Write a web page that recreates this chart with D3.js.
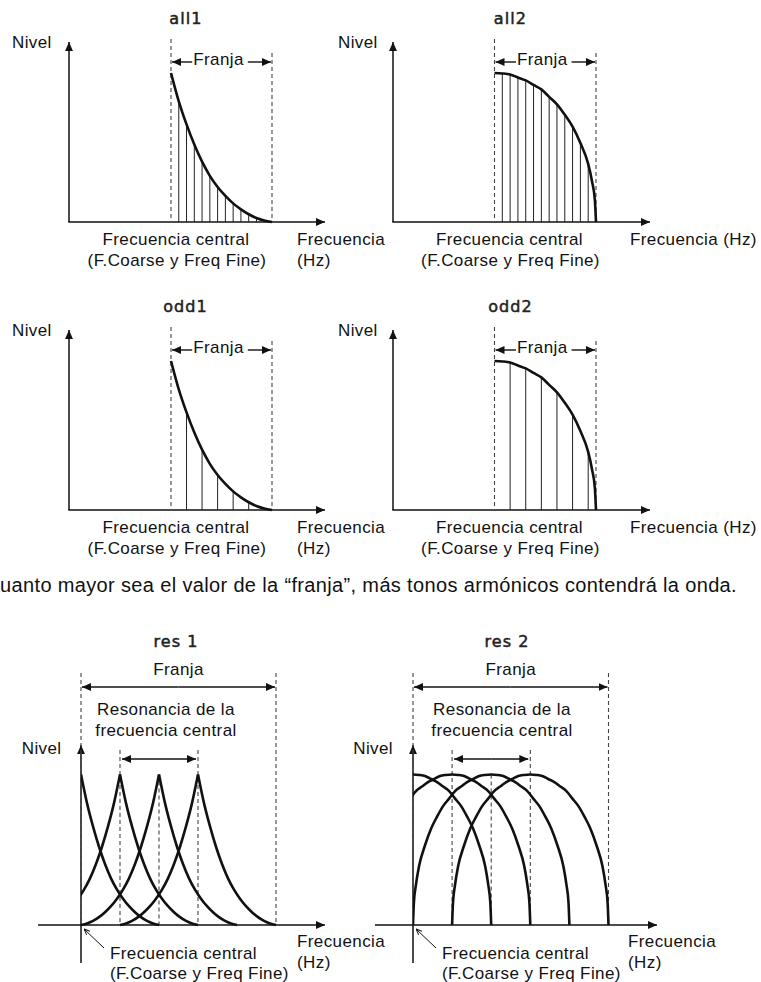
<!DOCTYPE html>
<html>
<head>
<meta charset="utf-8">
<script src="https://cdn.jsdelivr.net/npm/d3@7"></script>
<style>
body { margin: 0; background: #fff; }
</style>
</head>
<body>
<div id="chart"></div>
<script>
//Width and height
var w = 761;
var h = 982;

//Harmonic number inside the band (0 = central frequency, 13 = end of "Franja")
var curveIdx = [0, 1, 2, 3, 4, 5, 6, 7, 8, 9, 10, 11, 12, 13];
var allHarmonics = [1, 2, 3, 4, 5, 6, 7, 8, 9, 10, 11, 12];
var oddHarmonics1 = [2, 4, 6, 8, 10];
var oddHarmonics2 = [2, 4, 6, 8, 10, 12];

//Level of the envelope at each harmonic (1 = top)
var level1 = [1, 0.81, 0.655, 0.52, 0.405, 0.31, 0.235, 0.175, 0.125, 0.085, 0.052, 0.027, 0.01, 0];
var level2 = [1, 0.997, 0.99, 0.97, 0.95, 0.92, 0.89, 0.84, 0.79, 0.72, 0.64, 0.53, 0.39, 0];
//extra points where the round envelope drops steeply
var level2EdgeIdx = [12.5, 12.85];
var level2Edge = [0.27, 0.15];

//res: peaks in steps of the central frequency resonance
var resPeaks = [0, 1, 2, 3];
var resFranja = 5;
var resHalfWidth = 2;

var titles = ["all1", "all2", "odd1", "odd2", "res 1", "res 2"];
var sentence = "Cuanto mayor sea el valor de la \u201cfranja\u201d, más tonos armónicos contendrá la onda.";

var font = "'Liberation Sans', Arial, Helvetica, sans-serif";
var titleFont = "'DejaVu Sans', Verdana, sans-serif";

//Create SVG element
var svg = d3.select("#chart")
    .append("svg")
    .attr("width", w)
    .attr("height", h);

var defs = svg.append("defs");

defs.append("marker")
    .attr("id", "head")
    .attr("viewBox", "0 0 10 10")
    .attr("refX", 10)
    .attr("refY", 5)
    .attr("markerWidth", 9)
    .attr("markerHeight", 9)
    .attr("markerUnits", "userSpaceOnUse")
    .attr("orient", "auto")
    .append("path")
    .attr("d", "M0,0.6L10,5L0,9.4Z")
    .attr("fill", "#111");

defs.append("marker")
    .attr("id", "smallhead")
    .attr("viewBox", "0 0 10 10")
    .attr("refX", 10)
    .attr("refY", 5)
    .attr("markerWidth", 6)
    .attr("markerHeight", 6)
    .attr("markerUnits", "userSpaceOnUse")
    .attr("orient", "auto")
    .append("path")
    .attr("d", "M0,1L10,5L0,9")
    .attr("fill", "none")
    .attr("stroke", "#111")
    .attr("stroke-width", 1.6);

function arrow(g, x1, y1, x2, y2, sw) {
    return g.append("line")
        .attr("x1", x1).attr("y1", y1)
        .attr("x2", x2).attr("y2", y2)
        .attr("stroke", "#111")
        .attr("stroke-width", sw || 1.4)
        .attr("marker-end", "url(#head)");
}

function dashed(g, x, y1, y2) {
    g.append("line")
        .attr("x1", x).attr("y1", y1)
        .attr("x2", x).attr("y2", y2)
        .attr("stroke", "#444")
        .attr("stroke-width", 1.1)
        .attr("stroke-dasharray", "4,3");
}

function label(g, txt, x, y, anchor, size) {
    return g.append("text")
        .attr("x", x)
        .attr("y", y)
        .attr("text-anchor", anchor || "start")
        .attr("font-family", font)
        .attr("font-size", size || 17)
        .attr("letter-spacing", 0.4)
        .attr("fill", "#111")
        .text(txt);
}

function title(g, txt, x, y) {
    g.append("text")
        .attr("x", x)
        .attr("y", y)
        .attr("text-anchor", "middle")
        .attr("font-family", titleFont)
        .attr("font-size", 16)
        .attr("letter-spacing", 1.1)
        .attr("fill", "#222")
        .attr("stroke", "#222")
        .attr("stroke-width", 0.5)
        .text(txt);
}

//Double arrow with the word in the middle
function franjaArrow(g, xa, xb, y, cx) {
    var t = label(g, "Franja", cx, y + 3, "middle");
    var tw = t.node().getComputedTextLength();
    arrow(g, cx - tw / 2 - 1, y, xa + 1, y);
    arrow(g, cx + tw / 2 + 4, y, xb - 1, y);
}

//Top panels: envelope + harmonic lines
function harmonicPanel(p) {
    var g = svg.append("g").attr("transform", "translate(0," + p.dy + ")");

    var x = d3.scaleLinear().domain([0, 13]).range([p.x0, p.x1]);
    var y = d3.scaleLinear().domain([0, 1]).range([222, 73]);

    //axes
    arrow(g, p.ax, 222, p.ax, 42, 1.5);
    arrow(g, p.ax - 0.7, 222, p.axEnd, 222, 1.5);

    //band limits
    dashed(g, x(0), 39, 222);
    dashed(g, x(13), 53, 222);

    //harmonics
    g.selectAll(".harm")
        .data(p.harmonics)
        .enter()
        .append("line")
        .attr("class", "harm")
        .attr("x1", function(d) { return x(d); })
        .attr("x2", function(d) { return x(d); })
        .attr("y1", 222)
        .attr("y2", function(d) { return y(p.levels[d]); })
        .attr("stroke", "#222")
        .attr("stroke-width", 1);

    //envelope
    var pts = curveIdx.map(function(d, i) { return [d, p.levels[i]]; });
    if (p.edge) {
        p.edge.idx.forEach(function(d, i) { pts.push([d, p.edge.lv[i]]); });
        pts.sort(function(a, b) { return a[0] - b[0]; });
    }
    var line = d3.line()
        .x(function(d) { return x(d[0]); })
        .y(function(d) { return y(d[1]); })
        .curve(d3.curveMonotoneX);
    g.append("path")
        .attr("d", line(pts))
        .attr("fill", "none")
        .attr("stroke", "#111")
        .attr("stroke-width", 2.6);

    franjaArrow(g, x(0), x(13), 62, (x(0) + x(13)) / 2 - 3);

    //texts
    title(g, p.title, p.titleX, 24);
    label(g, "Nivel", p.nivelX, 48);
    label(g, "Frecuencia central", p.cx, 244.5, "middle");
    label(g, "(F.Coarse y Freq Fine)", p.cx + 1, 266, "middle");
    if (p.hzInline) {
        label(g, "Frecuencia (Hz)", p.hzX, 244.5);
    } else {
        label(g, "Frecuencia", p.hzX, 244.5);
        label(g, "(Hz)", p.hzX, 266);
    }
}

var edge2 = { idx: level2EdgeIdx, lv: level2Edge };

harmonicPanel({ dy: 0, ax: 69, axEnd: 325, x0: 171, x1: 272, harmonics: allHarmonics, levels: level1,
    title: titles[0], titleX: 186, nivelX: 12, cx: 176, hzX: 297 });
harmonicPanel({ dy: 0, ax: 393, axEnd: 650, x0: 494.5, x1: 596, harmonics: allHarmonics, levels: level2, edge: edge2,
    title: titles[1], titleX: 510.5, nivelX: 338, cx: 509.5, hzX: 630, hzInline: true });
harmonicPanel({ dy: 288, ax: 69, axEnd: 325, x0: 171, x1: 272, harmonics: oddHarmonics1, levels: level1,
    title: titles[2], titleX: 185.5, nivelX: 12, cx: 176, hzX: 297 });
harmonicPanel({ dy: 288, ax: 393, axEnd: 650, x0: 494.5, x1: 596, harmonics: oddHarmonics2, levels: level2, edge: edge2,
    title: titles[3], titleX: 510.5, nivelX: 338, cx: 509.5, hzX: 630, hzInline: true });

//sentence between the two groups (its first letter runs off the left edge)
label(svg, sentence, 737, 592, "end", 20).attr("letter-spacing", 0.35);

//Bottom panels: resonance peaks
function resPanel(p) {
    var g = svg.append("g");
    var base = 925;

    var x = d3.scaleLinear().domain([0, resFranja]).range([p.ax, p.xEnd]);
    var y = d3.scaleLinear().domain([0, 1]).range([base, 774.5]);

    g.append("clipPath")
        .attr("id", p.id)
        .append("rect")
        .attr("x", p.ax)
        .attr("y", 700)
        .attr("width", 400)
        .attr("height", 240);

    //axes
    arrow(g, p.ax, 963, p.ax, 745, 1.5);
    arrow(g, p.axStart, base, p.axEnd, base, 1.5);

    //dashed guides
    dashed(g, x(0), 673, base);
    dashed(g, x(resFranja), 673, base);
    dashed(g, x(1), 750, base);
    dashed(g, x(3), 750, base);
    dashed(g, x(2), y(1), base);

    //peaks
    var pts = curveIdx.map(function(d, i) { return [d, p.levels[i]]; });
    if (p.edge) {
        p.edge.idx.forEach(function(d, i) { pts.push([d, p.edge.lv[i]]); });
        pts.sort(function(a, b) { return a[0] - b[0]; });
    }
    var line = d3.line()
        .x(function(d) { return x(d[0]); })
        .y(function(d) { return y(d[1]); })
        .curve(d3.curveMonotoneX);

    var curves = g.append("g").attr("clip-path", "url(#" + p.id + ")");
    resPeaks.forEach(function(pk) {
        var right = pts.map(function(d) { return [pk + resHalfWidth * d[0] / 13, d[1]]; });
        var left = pts.map(function(d) { return [pk - resHalfWidth * d[0] / 13, d[1]]; }).reverse();
        var sides = p.cusp ? [left, right] : [left.concat(right.slice(1))];
        sides.forEach(function(s) {
            curves.append("path")
                .attr("d", line(s))
                .attr("fill", "none")
                .attr("stroke", "#111")
                .attr("stroke-width", 2.6);
        });
    });

    //Franja arrow
    arrow(g, (x(0) + x(resFranja)) / 2, 687, x(0) + 1, 687);
    arrow(g, (x(0) + x(resFranja)) / 2, 687, x(resFranja) - 1, 687);
    label(g, "Franja", (x(0) + x(resFranja)) / 2, 675, "middle");

    //resonance arrow
    arrow(g, (x(1) + x(3)) / 2, 759, x(1) + 2, 759);
    arrow(g, (x(1) + x(3)) / 2, 759, x(3) - 2, 759);
    label(g, "Resonancia de la", p.rx, 715, "middle");
    label(g, "frecuencia central", p.rx, 736, "middle");

    //pointer to the central frequency
    g.append("line")
        .attr("x1", p.ax + 23).attr("y1", 948)
        .attr("x2", p.ax + 3).attr("y2", 929)
        .attr("stroke", "#111").attr("stroke-width", 1)
        .attr("marker-end", "url(#smallhead)");

    title(g, p.title, p.titleX, 647);
    label(g, "Nivel", p.nivelX, 754, "end");
    label(g, "Frecuencia central", p.ax + 29, 959);
    label(g, "(F.Coarse y Freq Fine)", p.ax + 29, 979);
    label(g, "Frecuencia", p.hzX, 947);
    label(g, "(Hz)", p.hzX, 968);
}

resPanel({ id: "clip1", ax: 81, xEnd: 276, axStart: 38, axEnd: 325, levels: level1, cusp: true,
    title: titles[4], titleX: 176, rx: 166, nivelX: 61.5, hzX: 297 });
resPanel({ id: "clip2", ax: 413, xEnd: 608.5, axStart: 375, axEnd: 657, levels: level2, edge: edge2, cusp: false,
    title: titles[5], titleX: 507, rx: 502, nivelX: 393, hzX: 628 });
</script>
</body>
</html>
